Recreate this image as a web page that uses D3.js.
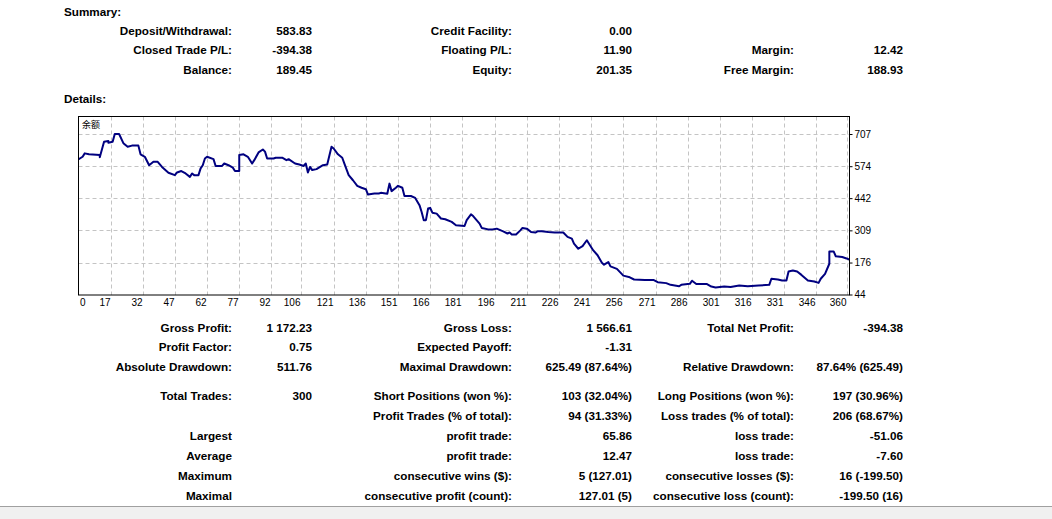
<!DOCTYPE html>
<html>
<head>
<meta charset="utf-8">
<script src="https://cdn.jsdelivr.net/npm/d3@7"></script>
<style>
  body { margin: 0; background: #fff; }
  svg { display: block; }
  text { font-family: "Liberation Sans", Arial, sans-serif; fill: #000; }
  .lbl { font-weight: bold; font-size: 11.7px; }
  .axis text { font-size: 10px; font-weight: normal; }
</style>
</head>
<body>
<div id="report"></div>
<script>
// summary block (label, value) x 3 columns
var summaryRows = [
  ["Deposit/Withdrawal:", "583.83", "Credit Facility:", "0.00", "", ""],
  ["Closed Trade P/L:", "-394.38", "Floating P/L:", "11.90", "Margin:", "12.42"],
  ["Balance:", "189.45", "Equity:", "201.35", "Free Margin:", "188.93"]
];

// details block under the graph
var detailRows = [
  ["Gross Profit:", "1 172.23", "Gross Loss:", "1 566.61", "Total Net Profit:", "-394.38"],
  ["Profit Factor:", "0.75", "Expected Payoff:", "-1.31", "", ""],
  ["Absolute Drawdown:", "511.76", "Maximal Drawdown:", "625.49 (87.64%)", "Relative Drawdown:", "87.64% (625.49)"],
  ["Total Trades:", "300", "Short Positions (won %):", "103 (32.04%)", "Long Positions (won %):", "197 (30.96%)"],
  ["", "", "Profit Trades (% of total):", "94 (31.33%)", "Loss trades (% of total):", "206 (68.67%)"],
  ["Largest", "", "profit trade:", "65.86", "loss trade:", "-51.06"],
  ["Average", "", "profit trade:", "12.47", "loss trade:", "-7.60"],
  ["Maximum", "", "consecutive wins ($):", "5 (127.01)", "consecutive losses ($):", "16 (-199.50)"],
  ["Maximal", "", "consecutive profit (count):", "127.01 (5)", "consecutive loss (count):", "-199.50 (16)"]
];

// balance curve
var tradeIndex = [2,4,5,7,12,12,14,16,16,18,19,21,23,25,27,30,31,33,35,37,39,41,44,47,48,50,52,54,55,56,58,59,60,61,62,65,66,69,70,72,74,75,77,77,79,81,83,84,86,88,89,90,93,94,97,99,100,103,105,107,108,109,110,111,113,116,118,120,121,123,125,126,128,130,132,134,136,137,140,142,143,146,147,148,150,151,153,154,157,159,161,162,163,164,165,166,167,169,171,173,176,178,182,183,185,186,189,190,193,195,197,200,202,203,204,206,208,209,211,213,215,216,218,221,224,228,230,232,233,235,237,239,240,242,244,246,247,249,250,253,256,259,261,266,270,272,276,278,282,283,287,288,290,295,297,299,303,306,310,314,319,324,325,328,330,332,333,335,337,339,342,345,347,348,350,352,352,354,355,358,360,362];
var balance = [602,613,627,623,620,611,675,678,671,675,707,707,669,654,659,659,623,613,578,592,592,571,547,537,548,554,544,530,544,537,537,565,578,606,613,603,575,575,585,578,568,554,554,620,623,613,585,599,631,643,634,606,606,609,609,599,603,585,581,575,585,548,571,558,562,578,581,654,647,623,609,585,537,516,493,485,479,457,461,461,464,460,502,471,485,493,485,451,451,443,413,385,351,351,399,402,382,378,358,355,344,330,327,351,375,368,337,319,313,313,316,305,296,300,292,292,309,319,316,302,300,305,305,302,300,300,282,275,254,233,244,268,254,226,206,175,167,178,160,150,122,115,106,104,104,95,91,84,78,84,88,101,87,87,77,73,77,75,81,78,81,84,109,106,102,102,139,143,139,125,102,98,92,109,129,171,222,222,202,199,193,186];

var xTickLabels = [17,32,47,62,77,92,106,121,136,151,166,181,196,211,226,241,256,271,286,301,316,331,346,360];
var yTickLabels = [44,176,309,442,574,707];
var seriesName = "余额";

var W = 1052, H = 519;
var box = { left: 78.5, right: 849.5, top: 116.5, bottom: 295 };

var svg = d3.select("#report").append("svg")
  .attr("width", W)
  .attr("height", H);

svg.append("rect").attr("width", W).attr("height", H).attr("fill", "#fff");

// text tables
var colX = [232, 312, 512, 632, 794, 903];

function drawRows(rows, ys) {
  rows.forEach(function(r, ri) {
    r.forEach(function(t, ci) {
      if (!t) return;
      svg.append("text")
        .attr("class", "lbl")
        .attr("x", colX[ci])
        .attr("y", ys[ri])
        .attr("dy", "0.35em")
        .attr("text-anchor", "end")
        .text(t);
    });
  });
}

svg.append("text").attr("class", "lbl").attr("x", 64).attr("y", 11.5).attr("dy", "0.35em").text("Summary:");
svg.append("text").attr("class", "lbl").attr("x", 64).attr("y", 99).attr("dy", "0.35em").text("Details:");

drawRows(summaryRows, [30.5, 50, 70]);
drawRows(detailRows, [328.3, 347.3, 367.3, 396, 416, 435.5, 455.5, 475.5, 495.5]);

// scales
var x = d3.scaleLinear().domain([17, 360]).range([110.5, 846.5]);
var y = d3.scaleLinear().domain([44, 707]).range([294.5, 134]);

// grid
var grid = svg.append("g").attr("stroke", "#c4c4c4").attr("stroke-dasharray", "4,3").attr("stroke-width", 1);
grid.selectAll(".gx").data(xTickLabels).enter().append("line")
  .attr("x1", d => Math.round(x(d)) + 0.5).attr("x2", d => Math.round(x(d)) + 0.5)
  .attr("y1", box.top).attr("y2", box.bottom);
grid.selectAll(".gy").data(yTickLabels.slice(1)).enter().append("line")
  .attr("x1", box.left).attr("x2", box.right)
  .attr("y1", d => Math.round(y(d)) + 0.5).attr("y2", d => Math.round(y(d)) + 0.5);

// balance line
svg.append("clipPath").attr("id", "clip").append("rect")
  .attr("x", box.left).attr("y", box.top)
  .attr("width", box.right - box.left).attr("height", box.bottom - box.top);

var line = d3.line()
  .x((d, i) => x(tradeIndex[i]))
  .y(d => y(d));

svg.append("path")
  .datum(balance)
  .attr("clip-path", "url(#clip)")
  .attr("fill", "none")
  .attr("stroke", "#000080")
  .attr("stroke-width", 2)
  .attr("stroke-linejoin", "round")
  .attr("d", line);

// frame
svg.append("rect")
  .attr("x", box.left).attr("y", box.top)
  .attr("width", box.right - box.left).attr("height", box.bottom - box.top)
  .attr("fill", "none").attr("stroke", "#000").attr("stroke-width", 1);

svg.append("text")
  .attr("x", 82).attr("y", 125).attr("dy", "0.35em")
  .style("font-family", "'Noto Sans CJK SC', sans-serif")
  .style("font-size", "9px")
  .attr("fill", "#333")
  .text(seriesName);

// right axis
var yAxis = d3.axisRight(y).tickValues(yTickLabels).tickSize(3).tickPadding(2);
var ya = svg.append("g").attr("class", "axis")
  .attr("transform", "translate(" + box.right + ",0)")
  .call(yAxis);
ya.select(".domain").remove();
ya.selectAll("text").attr("fill", "#000");

// bottom labels: right-aligned on each grid line, "0" at the left edge
var xa = svg.append("g").attr("class", "axis");
xa.append("text").attr("x", box.left + 1.5).attr("y", 302.5).attr("dy", "0.35em").text("0");
xa.selectAll(".xl").data(xTickLabels).enter().append("text")
  .attr("x", d => Math.round(x(d)) - 0.5)
  .attr("y", 302.5)
  .attr("dy", "0.35em")
  .attr("text-anchor", "end")
  .text(d => d);

// status strip at the bottom
svg.append("rect").attr("x", 0).attr("y", 506).attr("width", W).attr("height", H - 506).attr("fill", "#f0f0f0");
svg.append("line").attr("x1", 0).attr("x2", W).attr("y1", 506.5).attr("y2", 506.5).attr("stroke", "#a0a0a0");
</script>
</body>
</html>
